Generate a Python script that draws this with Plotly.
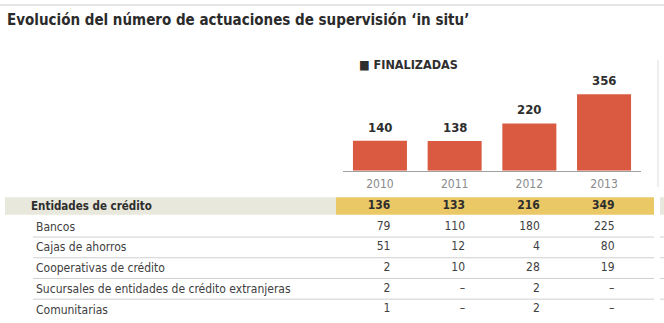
import plotly.graph_objects as go

# ---- data ----
years = ["2010", "2011", "2012", "2013"]
finalizadas = [140, 138, 220, 356]

row_labels = [
    "Entidades de crédito",
    "Bancos",
    "Cajas de ahorros",
    "Cooperativas de crédito",
    "Sucursales de entidades de crédito extranjeras",
    "Comunitarias",
]
row_values = [
    ["136", "133", "216", "349"],
    ["79", "110", "180", "225"],
    ["51", "12", "4", "80"],
    ["2", "10", "28", "19"],
    ["2", "–", "2", "–"],
    ["1", "–", "2", "–"],
]

title = "Evolución del número de actuaciones de supervisión ‘in situ’"
legend_label = "FINALIZADAS"

# ---- style ----
FONT = "Liberation Sans Narrow, DejaVu Sans Condensed, Arial Narrow, sans-serif"
W, H = 664, 323
RED = "#d95a41"
DARK = "#2e2e2e"
BODY = "#404040"
GRAY_TXT = "#8a8a8a"
YELLOW = "#ebc866"
BEIGE = "#e8e8dc"
LINE = "#cfcfcf"

def px_x(p):
    return p / W

def px_y(p):
    return 1 - p / H

fig = go.Figure()

idx = list(range(len(years)))

fig.add_trace(go.Bar(
    x=idx, y=finalizadas, marker_color=RED, marker_line_width=0,
    xaxis="x", yaxis="y", showlegend=False, hoverinfo="skip",
    cliponaxis=False,
))

# bar value labels
annotations = []
for i, v in zip(idx, finalizadas):
    annotations.append(dict(
        x=i, y=v, xref="x", yref="y", text=f"<b>{v}</b>", showarrow=False,
        yanchor="bottom", yshift=4, font=dict(family=FONT, size=13, color=DARK),
    ))

# table values (one scatter text trace per row)
for r, vals in enumerate(row_values):
    bold = r == 0
    fig.add_trace(go.Scatter(
        x=idx, y=[r] * len(idx), mode="text",
        text=[f"<b>{v}</b>" if bold else v for v in vals],
        textposition="middle left",
        textfont=dict(family=FONT, size=12, color=DARK if bold else BODY),
        xaxis="x2", yaxis="y2", showlegend=False, hoverinfo="skip",
        cliponaxis=False,
    ))

# row labels
for r, lab in enumerate(row_labels):
    bold = r == 0
    annotations.append(dict(
        x=px_x(29 if bold else 34), y=r, xref="paper", yref="y2",
        text=f"<b>{lab}</b>" if bold else lab, showarrow=False,
        xanchor="left", yanchor="middle",
        font=dict(family=FONT, size=11.5 if bold else 12, color=DARK if bold else BODY),
    ))

# title
annotations.append(dict(
    x=px_x(5), y=px_y(20), xref="paper", yref="paper", text=f"<b>{title}</b>",
    showarrow=False, xanchor="left", yanchor="middle",
    font=dict(family=FONT, size=15, color="#2b2b2b"),
))
# legend
annotations.append(dict(
    x=px_x(357), y=px_y(64), xref="paper", yref="paper",
    text=f"<b>■ {legend_label}</b>", showarrow=False, xanchor="left", yanchor="middle",
    font=dict(family=FONT, size=12.5, color=DARK),
))

shapes = []
# top rule
shapes.append(dict(type="line", xref="paper", yref="paper", x0=0, x1=1,
                   y0=px_y(5), y1=px_y(5), line=dict(color="#dddddd", width=1.5)))
# vertical rule right of bars
shapes.append(dict(type="line", xref="paper", yref="paper", x0=px_x(658), x1=px_x(658),
                   y0=px_y(60), y1=px_y(187), line=dict(color="#dddddd", width=1)))
# highlighted row background
shapes.append(dict(type="rect", xref="paper", yref="y2", x0=px_x(5), x1=px_x(336),
                   y0=-0.42, y1=0.42, fillcolor=BEIGE, line_width=0, layer="below"))
shapes.append(dict(type="rect", xref="paper", yref="y2", x0=px_x(336), x1=px_x(654),
                   y0=-0.42, y1=0.42, fillcolor=YELLOW, line_width=0, layer="below"))
shapes.append(dict(type="rect", xref="paper", yref="y2", x0=px_x(660), x1=1,
                   y0=-0.42, y1=0.42, fillcolor=BEIGE, line_width=0, layer="below"))
# row separators
for r in range(1, len(row_labels) - 1):
    shapes.append(dict(type="line", xref="paper", yref="y2", x0=px_x(33), x1=px_x(654),
                       y0=r + 0.5, y1=r + 0.5, line=dict(color=LINE, width=1)))
    shapes.append(dict(type="line", xref="paper", yref="y2", x0=px_x(660), x1=1,
                       y0=r + 0.5, y1=r + 0.5, line=dict(color=LINE, width=1)))

x_dom = [px_x(342.6), px_x(641.4)]
row_h = 20.7
y2_top = 206 - row_h / 2
y2_bot = y2_top + row_h * len(row_labels)

fig.update_layout(
    width=W, height=H, margin=dict(l=0, r=0, t=0, b=0),
    paper_bgcolor="white", plot_bgcolor="rgba(0,0,0,0)",
    bargap=0.277,
    xaxis=dict(domain=x_dom, range=[-0.5, 3.5], tickvals=idx, ticktext=years,
               showgrid=False, zeroline=False, showline=True, linecolor="#a0a0a0",
               linewidth=1, ticks="", tickfont=dict(family=FONT, size=12, color=GRAY_TXT),
               ticklabelstandoff=2, fixedrange=True),
    yaxis=dict(domain=[px_y(170.7), px_y(170.7 - 400 * 0.2146)], range=[0, 400],
               visible=False, fixedrange=True),
    xaxis2=dict(domain=x_dom, range=[-0.5 - 0.14, 3.5 - 0.14], visible=False,
                anchor="y2", fixedrange=True),
    yaxis2=dict(domain=[px_y(y2_bot), px_y(y2_top)], range=[len(row_labels) - 0.5, -0.5],
                visible=False, anchor="x2", fixedrange=True),
    annotations=annotations, shapes=shapes,
)

fig.write_html("out.html")
